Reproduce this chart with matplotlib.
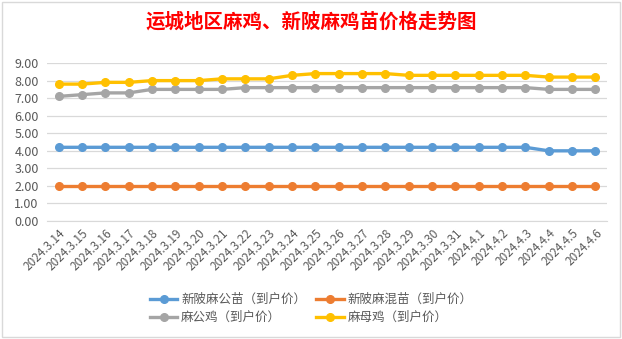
import matplotlib
matplotlib.use("Agg")
import matplotlib.pyplot as plt

plt.rcParams["font.family"] = ["Noto Sans CJK SC", "DejaVu Sans"]

dates = ["2024.3.14", "2024.3.15", "2024.3.16", "2024.3.17", "2024.3.18", "2024.3.19",
         "2024.3.20", "2024.3.21", "2024.3.22", "2024.3.23", "2024.3.24", "2024.3.25",
         "2024.3.26", "2024.3.27", "2024.3.28", "2024.3.29", "2024.3.30", "2024.3.31",
         "2024.4.1", "2024.4.2", "2024.4.3", "2024.4.4", "2024.4.5", "2024.4.6"]
gongmiao = [4.2] * 21 + [4.0] * 3
hunmiao = [2.0] * 24
gongji = [7.1, 7.2, 7.3, 7.3, 7.5, 7.5, 7.5, 7.5] + [7.6] * 13 + [7.5] * 3
muji = [7.8, 7.8, 7.9, 7.9, 8.0, 8.0, 8.0, 8.1, 8.1, 8.1, 8.3,
        8.4, 8.4, 8.4, 8.4, 8.3, 8.3, 8.3, 8.3, 8.3, 8.3, 8.2, 8.2, 8.2]

series = [
    ("新陂麻公苗（到户价）", gongmiao, "#5b9bd5"),
    ("新陂麻混苗（到户价）", hunmiao, "#ed7d31"),
    ("麻公鸡（到户价）", gongji, "#a5a5a5"),
    ("麻母鸡（到户价）", muji, "#ffc000"),
]

fig = plt.figure(figsize=(6.22, 3.39), dpi=100)
ax = fig.add_axes([0.0756, 0.348, 0.9004, 0.466])
x = list(range(len(dates)))
handles = []
for name, vals, col in series:
    h, = ax.plot(x, vals, color=col, lw=2.4, marker="o", ms=5.5, label=name)
    handles.append(h)

ax.set_xlim(-0.5, len(dates) - 0.5)
ax.set_ylim(0, 9)
ax.set_yticks(range(10))
ax.set_yticklabels([f"{v:.2f}" for v in range(10)])
ax.set_xticks(x)
ax.set_xticklabels(dates, rotation=45, ha="right", rotation_mode="anchor")
ax.tick_params(axis="both", length=0, labelsize=8.5, colors="#595959")
ax.tick_params(axis="y", labelsize=9, pad=6)
ax.tick_params(axis="x", pad=4)
ax.grid(axis="y", color="#d9d9d9", lw=0.9)
for s in ["left", "right", "top"]:
    ax.spines[s].set_visible(False)
ax.spines["bottom"].set_color("#d9d9d9")
ax.set_axisbelow(True)

fig.text(0.5, 0.935, "运城地区麻鸡、新陂麻鸡苗价格走势图", ha="center", va="center",
         color="red", fontsize=14, fontweight="bold")

# legend filled row by row like the original
order = [0, 2, 1, 3]
leg = fig.legend([handles[i] for i in order], [series[i][0] for i in order],
                 loc="center", bbox_to_anchor=(0.5, 0.09), ncol=2, frameon=False,
                 fontsize=9, handlelength=2.2, columnspacing=0.8, labelspacing=0.4,
                 handletextpad=0.3)
for t in leg.get_texts():
    t.set_color("#595959")

fig.patches.append(plt.Rectangle((0.003, 0.005), 0.994, 0.99, transform=fig.transFigure,
                                 fill=False, ec="#d9d9d9", lw=1))
fig.savefig("out.png", dpi=100)
